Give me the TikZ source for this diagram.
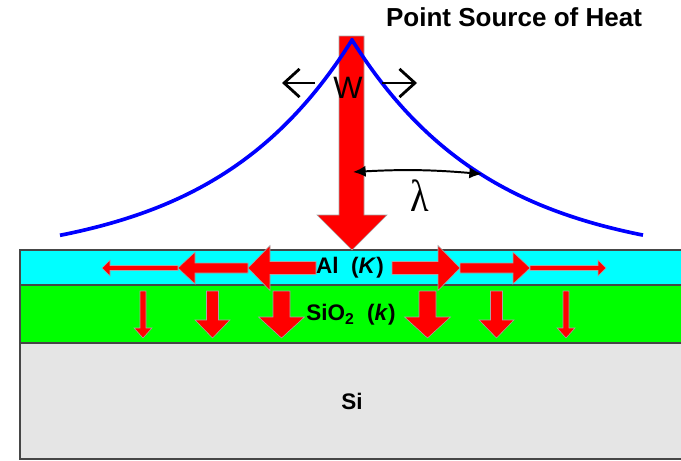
\documentclass[tikz,border=0pt]{standalone}
\usepackage{xcolor}
\usepackage{fontspec}
\setmainfont{Liberation Sans}
\newfontfamily\lamfont{Liberation Serif}
\usepackage{tikz}
\usetikzlibrary{arrows.meta}

\definecolor{alcyan}{RGB}{0,255,255}
\definecolor{oxgreen}{RGB}{0,255,0}
\definecolor{sigray}{RGB}{229,229,229}
\definecolor{heatred}{RGB}{255,0,0}
\definecolor{edgegray}{RGB}{70,70,70}

\tikzset{
  layer/.style={draw=edgegray, line width=0.9pt},
  heat/.style={fill=heatred, draw=gray!70, line width=0.4pt},
  profile/.style={blue, line width=2.6pt},
  wbar/.style={line width=2pt, -{Straight Barb[length=11pt,width=20pt]}},
  decay/.style={line width=1.4pt, {Latex[length=9pt,width=8pt]}-{Latex[length=9pt,width=8pt]}},
  lbl/.style={font=\bfseries\fontsize{16}{18}\selectfont, inner sep=0pt}
}

\begin{document}
\begin{tikzpicture}[x=0.025cm, y=-0.025cm]
\useasboundingbox (0,0) rectangle (681,460);
\clip (0,0) rectangle (681,460);
% layers
\filldraw[layer, fill=sigray] (20,343) rectangle (690,459);
\draw[edgegray, line width=1.4pt] (20,459) -- (690,459);
\filldraw[layer, fill=oxgreen] (20,285) rectangle (690,343);
\filldraw[layer, fill=alcyan] (20,250) rectangle (690,285);
% heat input
\filldraw[heat] (339,36) -- (364,36) -- (364,215) -- (387,215) -- (352,250) -- (317,215) -- (339,215) -- cycle;
% lateral spreading in Al
\foreach \s in {-1,1} {
  \foreach \ta/\hb/\tp/\sw/\hw in {38/84/106/6.5/22.5, 106/159/176/5/16, 176/244/252/2.5/8}
    \filldraw[heat] ({354+\s*\ta},{268-\sw}) -- ({354+\s*\hb},{268-\sw}) -- ({354+\s*\hb},{268-\hw})
      -- ({354+\s*\tp},268) -- ({354+\s*\hb},{268+\hw}) -- ({354+\s*\hb},{268+\sw}) -- ({354+\s*\ta},{268+\sw}) -- cycle;
}
% leakage through SiO2
\foreach \s in {-1,1} {
  \foreach \dx/\sw/\hw/\hb in {73/8.5/23/317, 142/6/17.5/320, 211.5/3/9/328} {
    \pgfmathsetmacro\cx{354.5+\s*\dx}
    \filldraw[heat] ({\cx-\sw},291) -- ({\cx+\sw},291) -- ({\cx+\sw},\hb) -- ({\cx+\hw},\hb)
      -- (\cx,338) -- ({\cx-\hw},\hb) -- ({\cx-\sw},\hb) -- cycle;
  }
}
% temperature profile
\draw[profile] plot[domain=292:0, samples=80] ({352-\x},{263-223*exp(-\x/140)})
  -- plot[domain=0:291, samples=80] ({352+\x},{263-223*exp(-\x/140)});
% labels
\node (src) at (514,17) {\bfseries\fontsize{18.5}{20}\selectfont Point Source of Heat};
\node[inner sep=0pt] (w) at (348,88) {\fontsize{22}{24}\selectfont W};
\coordinate (wl) at (315,83);
\coordinate (wltip) at (282,83);
\coordinate (wr) at (382,83);
\coordinate (wrtip) at (417,83);
\draw[wbar] (wl) -- (wltip);
\draw[wbar] (wr) -- (wrtip);
\coordinate (lamL) at (353,172);
\coordinate (lamR) at (482,174);
\draw[decay] (lamL) to[bend left=4] (lamR);
\node[xscale=0.85, inner sep=0pt] (lam) at (420,196) {\lamfont\fontsize{32}{34}\selectfont λ};
\node[lbl] (al) at (350,268) {Al\ \ (\textit{K})};
\node[lbl] (sio) at (351,315) {SiO\textsubscript{2}\ \ (\textit{k})};
\node[lbl] (si) at (352,401) {Si};
\end{tikzpicture}
\end{document}
